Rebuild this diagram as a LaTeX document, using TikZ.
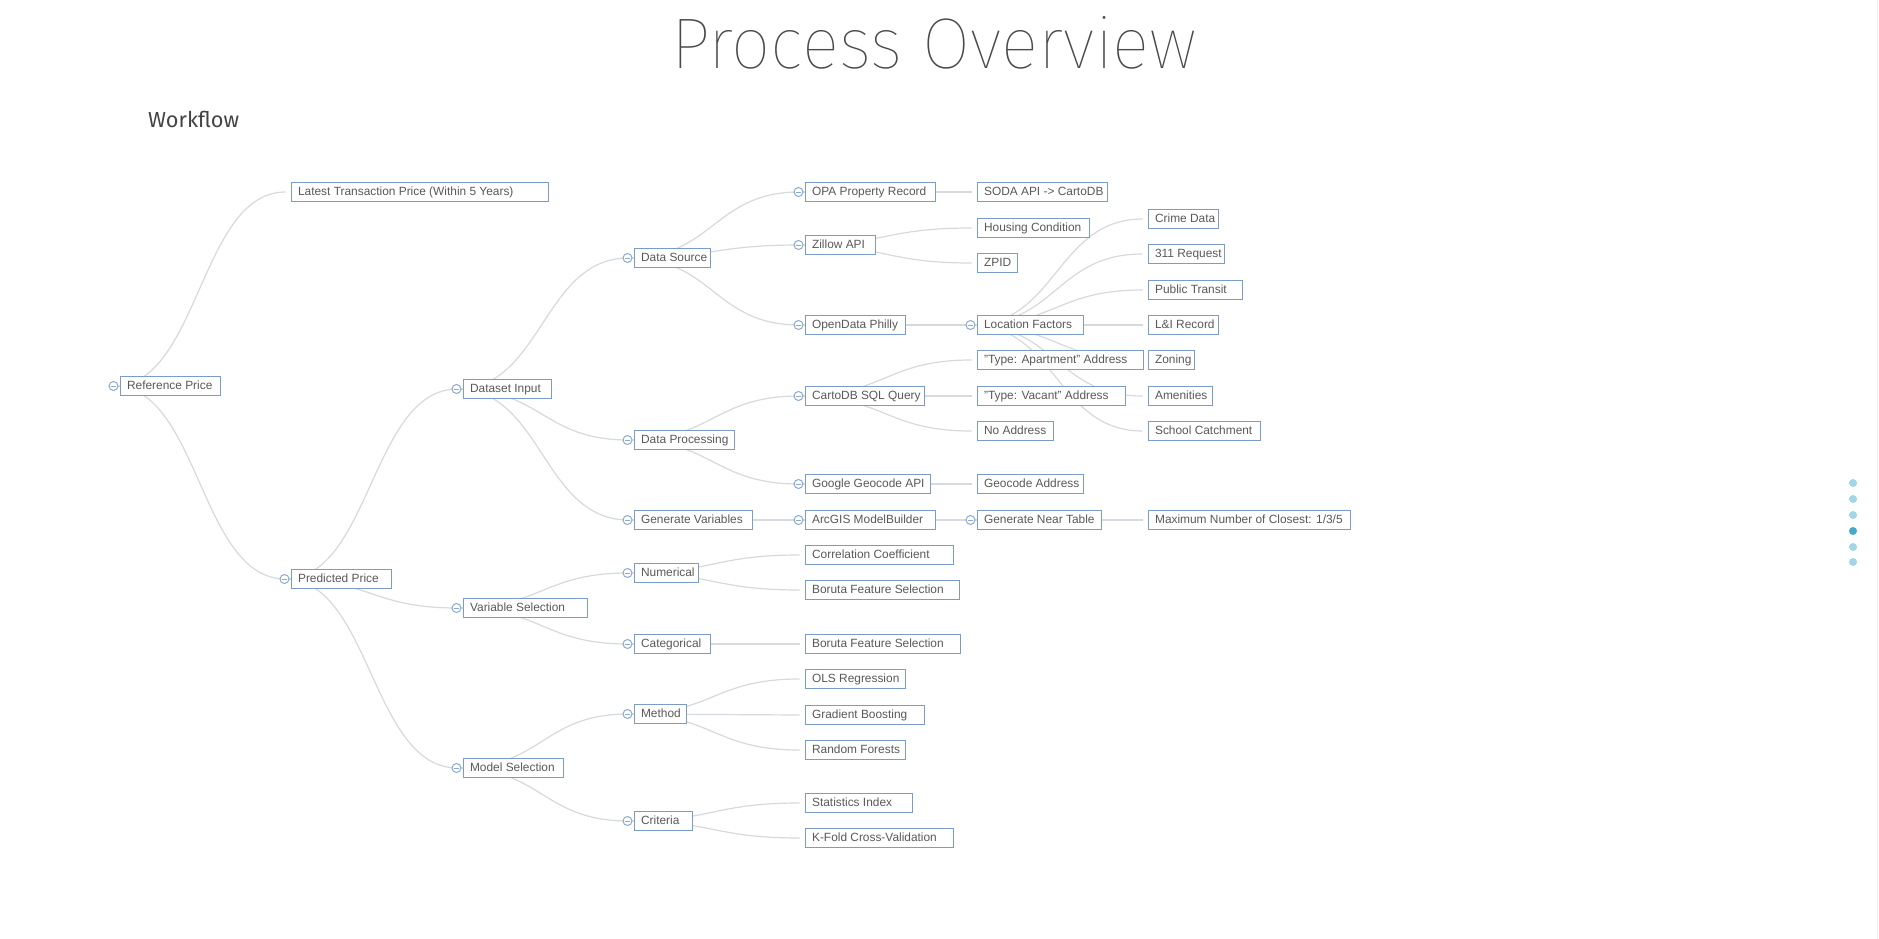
\documentclass[tikz,border=0pt]{standalone}
\usepackage{fontspec}
\setmainfont{Liberation Sans}
\IfFontExistsTF{Fira Sans Thin}{\newfontfamily\titlefont{Fira Sans Thin}}{%
 \IfFontExistsTF{Lato Hairline}{\newfontfamily\titlefont{Lato Hairline}}{%
  \IfFontExistsTF{Fira Sans ExtraLight}{\newfontfamily\titlefont{Fira Sans ExtraLight}}{%
   \IfFontExistsTF{Lato Light}{\newfontfamily\titlefont{Lato Light}}{%
    \newfontfamily\titlefont{Liberation Sans}}}}}
\newfontfamily\subfont{Fira Sans}
\usetikzlibrary{calc}
\pgfdeclarelayer{bg}
\pgfsetlayers{bg,main}
\definecolor{boxblue}{HTML}{7A9CC6}
\definecolor{togblue}{HTML}{8AAAD0}
\definecolor{txtgray}{HTML}{595959}
\definecolor{linkgray}{HTML}{D6D9DE}
\definecolor{titlegray}{HTML}{4A4A4A}
\definecolor{subgray}{HTML}{444444}
\definecolor{dotlight}{HTML}{A3D5E6}
\definecolor{dotdark}{HTML}{45AAC8}
\tikzset{
  box/.style={draw=boxblue, line width=1.15pt, fill=white, anchor=west,
    minimum height=19pt, inner xsep=7pt, inner ysep=0pt, text=txtgray,
    font=\fontsize{11.9}{13}\selectfont, text height=8.6pt, text depth=1.6pt},
  togc/.style={circle, draw=togblue, fill=white, line width=1pt,
    minimum size=9pt, inner sep=0pt,
    path picture={\draw[togblue, line width=1pt]
      ([xshift=-2.3pt]path picture bounding box.center) --
      ([xshift=2.3pt]path picture bounding box.center);}},
  link/.style={draw=linkgray, line width=1.2pt},
}
\newcommand\mmnode[5]{\node[box] (#1) at (#2+0.5,#3) {\makebox[\dimexpr#4pt-14pt\relax][l]{#5}};}
\newcommand\mmtog[1]{\node[togc] (c#1) at ($(#1.west)+(-6pt,0pt)$) {};}
\newcommand\mmlink[2]{\draw[link] let \p1=($(#1.west)+(-6pt,0pt)$), \p2=($(#2.west)+(-5pt,0pt)$) in (\p1) .. controls ({(\x1+\x2)/2},\y1) and ({(\x1+\x2)/2},\y2) .. (\p2);}
\begin{document}
\begin{tikzpicture}[x=1pt,y=-1pt]
\useasboundingbox (0,0) rectangle (1879,939);
% titles
\node[anchor=base west, inner sep=0pt, text=titlegray] (title) at (671,69)
  {\resizebox{526pt}{52pt}{\titlefont Process Overview}};
\node[anchor=base west, inner sep=0pt, text=subgray] (wf) at (148,128)
  {\resizebox{91pt}{!}{\subfont\fontsize{22}{24}\selectfont Workflow}};
% column 1
\mmnode{ref}{119}{386}{100}{Reference Price}
% column 2
\mmnode{latest}{290}{192}{257}{Latest Transaction Price (Within 5 Years)}
\mmnode{pred}{290}{579}{100}{Predicted Price}
% column 3
\mmnode{dataset}{462}{389}{88}{Dataset Input}
\mmnode{varsel}{462}{608}{124}{Variable Selection}
\mmnode{modsel}{462}{768}{100}{Model Selection}
% column 4
\mmnode{datasrc}{633}{258}{76}{Data Source}
\mmnode{dataproc}{633}{440}{100}{Data Processing}
\mmnode{genvar}{633}{520}{118}{Generate Variables}
\mmnode{numerical}{633}{573}{64}{Numerical}
\mmnode{categorical}{633}{644}{76}{Categorical}
\mmnode{method}{633}{714}{52}{Method}
\mmnode{criteria}{633}{821}{58}{Criteria}
% column 5
\mmnode{opa}{804}{192}{130}{OPA Property Record}
\mmnode{zillow}{804}{245}{70}{Zillow API}
\mmnode{opendata}{804}{325}{100}{OpenData Philly}
\mmnode{carto}{804}{396}{119}{CartoDB SQL Query}
\mmnode{google}{804}{484}{125}{Google Geocode API}
\mmnode{arcgis}{804}{520}{130}{ArcGIS ModelBuilder}
\mmnode{corr}{804}{555}{148}{Correlation Coefficient}
\mmnode{borutaA}{804}{590}{154}{Boruta Feature Selection}
\mmnode{borutaB}{804}{644}{155}{Boruta Feature Selection}
\mmnode{ols}{804}{679}{100}{OLS Regression}
\mmnode{gradient}{804}{715}{119}{Gradient Boosting}
\mmnode{random}{804}{750}{100}{Random Forests}
\mmnode{stats}{804}{803}{107}{Statistics Index}
\mmnode{kfold}{804}{838}{148}{K-Fold Cross-Validation}
% column 6
\mmnode{soda}{976}{192}{130}{SODA API -> CartoDB}
\mmnode{housing}{976}{228}{112}{Housing Condition}
\mmnode{zpid}{976}{263}{40}{ZPID}
\mmnode{locfac}{976}{325}{106}{Location Factors}
\mmnode{apt}{976}{360}{166}{"Type: Apartment" Address}
\mmnode{vacant}{976}{396}{148}{"Type: Vacant" Address}
\mmnode{noaddr}{976}{431}{76}{No Address}
\mmnode{geoaddr}{976}{484}{106}{Geocode Address}
\mmnode{neartable}{976}{520}{124}{Generate Near Table}
% column 7
\mmnode{crime}{1147}{219}{70}{Crime Data}
\mmnode{rq}{1147}{254}{76}{311 Request}
\mmnode{transit}{1147}{290}{94}{Public Transit}
\mmnode{li}{1147}{325}{70}{L\&I Record}
\mmnode{zoning}{1147}{360}{46}{Zoning}
\mmnode{amenities}{1147}{396}{64}{Amenities}
\mmnode{school}{1147}{431}{112}{School Catchment}
\mmnode{maxnum}{1147}{520}{202}{Maximum Number of Closest: 1/3/5}
% collapse toggles
\foreach \n in {ref,pred,dataset,varsel,modsel,datasrc,dataproc,genvar,numerical,categorical,method,criteria,opa,zillow,opendata,carto,google,arcgis,locfac,neartable}{\mmtog{\n}}
% page indicator dots
\fill[dotlight] (1853,483) circle (4pt);
\fill[dotlight] (1853,499) circle (4pt);
\fill[dotlight] (1853,515) circle (4pt);
\fill[dotdark]  (1853,531) circle (4pt);
\fill[dotlight] (1853,547) circle (4pt);
\fill[dotlight] (1853,562) circle (4pt);
\begin{pgfonlayer}{bg}
\fill[white] (0,0) rectangle (1879,939);
\draw[black!7, line width=1pt] (1877,0) -- (1877,939);
\mmlink{ref}{latest}
\mmlink{ref}{pred}
\mmlink{pred}{dataset}
\mmlink{pred}{varsel}
\mmlink{pred}{modsel}
\mmlink{dataset}{datasrc}
\mmlink{dataset}{dataproc}
\mmlink{dataset}{genvar}
\mmlink{varsel}{numerical}
\mmlink{varsel}{categorical}
\mmlink{modsel}{method}
\mmlink{modsel}{criteria}
\mmlink{datasrc}{opa}
\mmlink{datasrc}{zillow}
\mmlink{datasrc}{opendata}
\mmlink{dataproc}{carto}
\mmlink{dataproc}{google}
\mmlink{genvar}{arcgis}
\mmlink{numerical}{corr}
\mmlink{numerical}{borutaA}
\mmlink{categorical}{borutaB}
\mmlink{method}{ols}
\mmlink{method}{gradient}
\mmlink{method}{random}
\mmlink{criteria}{stats}
\mmlink{criteria}{kfold}
\mmlink{opa}{soda}
\mmlink{zillow}{housing}
\mmlink{zillow}{zpid}
\mmlink{opendata}{locfac}
\mmlink{carto}{apt}
\mmlink{carto}{vacant}
\mmlink{carto}{noaddr}
\mmlink{google}{geoaddr}
\mmlink{arcgis}{neartable}
\mmlink{locfac}{crime}
\mmlink{locfac}{rq}
\mmlink{locfac}{transit}
\mmlink{locfac}{li}
\mmlink{locfac}{zoning}
\mmlink{locfac}{amenities}
\mmlink{locfac}{school}
\mmlink{neartable}{maxnum}
\end{pgfonlayer}
\end{tikzpicture}
\end{document}
